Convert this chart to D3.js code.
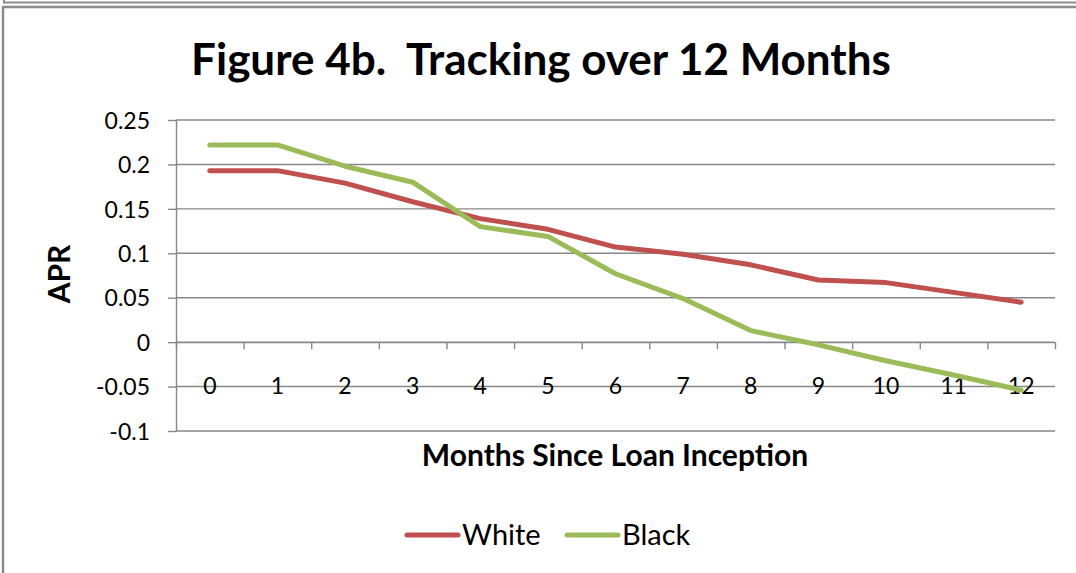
<!DOCTYPE html>
<html>
<head>
<meta charset="utf-8">
<script src="https://cdn.jsdelivr.net/npm/d3@7"></script>
<style>
  html, body { margin: 0; padding: 0; background: #fff; }
  svg { display: block; font-family: Lato, "Open Sans", sans-serif; }
  .grid line { stroke: #878787; stroke-width: 1.4; }
  .axis path, .axis line { stroke: #878787; stroke-width: 1.4; }
  .axis text { fill: #000; font-size: 23px; font-family: Lato, "Open Sans", sans-serif; }
</style>
</head>
<body>
<div id="chart"></div>
<script>
const months = ['0', '1', '2', '3', '4', '5', '6', '7', '8', '9', '10', '11', '12'];
const white = [0.193, 0.193, 0.179, 0.158, 0.139, 0.127, 0.107, 0.099, 0.087, 0.070, 0.067, 0.056, 0.045];
const black = [0.222, 0.222, 0.198, 0.180, 0.130, 0.119, 0.077, 0.049, 0.013, -0.003, -0.021, -0.037, -0.054];
const yTicks = [-0.1, -0.05, 0, 0.05, 0.1, 0.15, 0.2, 0.25];
const seriesNames = ['White', 'Black'];
const seriesColors = ['#c0504d', '#9bbb59'];

const width = 1076, height = 573;
const svg = d3.select('#chart').append('svg')
    .attr('width', width)
    .attr('height', height);

// outer frames
svg.append('path')
    .attr('d', 'M4,-2 V2.5 H1080')
    .attr('fill', 'none').attr('stroke', '#8c8c8c').attr('stroke-width', 2);
svg.append('path')
    .attr('d', 'M3,580 V7 H1080')
    .attr('fill', 'none').attr('stroke', '#8c8c8c').attr('stroke-width', 2.5);

const x = d3.scaleBand().domain(months).range([176, 1055]);
const xEdge = d3.scaleLinear().domain([0, months.length]).range([176, 1055]);
const y = d3.scaleLinear().domain([-0.1, 0.25]).range([431, 120]);

// gridlines
svg.append('g').attr('class', 'grid')
    .selectAll('line').data(yTicks).enter().append('line')
    .attr('x1', 176).attr('x2', 1055)
    .attr('y1', d => y(d)).attr('y2', d => y(d));

// y axis
const fmt = d => String(+d.toFixed(2));
svg.append('g').attr('class', 'axis')
    .attr('transform', 'translate(176,0)')
    .call(d3.axisLeft(y).tickValues(yTicks).tickSize(8).tickSizeOuter(0).tickPadding(18).tickFormat(fmt))
    .call(g => g.selectAll('text').attr('dy', '0.36em'));

// x axis at zero: tick marks at category boundaries
svg.append('g').attr('class', 'axis')
    .attr('transform', `translate(0,${y(0)})`)
    .call(d3.axisBottom(xEdge).tickValues(d3.range(months.length + 1)).tickSize(7).tickSizeOuter(0).tickFormat(''));

svg.append('g').attr('class', 'axis')
    .attr('transform', `translate(0,${y(0)})`)
    .call(d3.axisBottom(x).tickSize(0).tickPadding(36))
    .call(g => g.select('.domain').remove());

// lines
const line = d3.line()
    .x((d, i) => x(months[i]) + x.bandwidth() / 2)
    .y(d => y(d));

[white, black].forEach((vals, i) => {
    svg.append('path')
        .datum(vals)
        .attr('fill', 'none')
        .attr('stroke', seriesColors[i])
        .attr('stroke-width', 5)
        .attr('stroke-linecap', 'round')
        .attr('stroke-linejoin', 'round')
        .attr('d', line);
});

// titles
svg.append('text')
    .attr('x', 541).attr('y', 75)
    .attr('text-anchor', 'middle')
    .attr('font-size', 44).attr('font-weight', 'bold')
    .attr('xml:space', 'preserve')
    .text('Figure 4b.  Tracking over 12 Months');

svg.append('text')
    .attr('x', 615).attr('y', 466)
    .attr('text-anchor', 'middle')
    .attr('font-size', 30).attr('font-weight', 'bold')
    .text('Months Since Loan Inception');

svg.append('text')
    .attr('transform', 'translate(70,274) rotate(-90)')
    .attr('text-anchor', 'middle')
    .attr('font-size', 30).attr('font-weight', 'bold')
    .text('APR');

// legend
const legendX = [405, 565];
seriesNames.forEach((name, i) => {
    const g = svg.append('g').attr('transform', `translate(${legendX[i]},535)`);
    g.append('line')
        .attr('x1', 2).attr('x2', 53)
        .attr('stroke', seriesColors[i]).attr('stroke-width', 5)
        .attr('stroke-linecap', 'round');
    g.append('text')
        .attr('x', 57).attr('dy', '0.36em')
        .attr('font-size', 29)
        .text(name);
});
</script>
</body>
</html>
